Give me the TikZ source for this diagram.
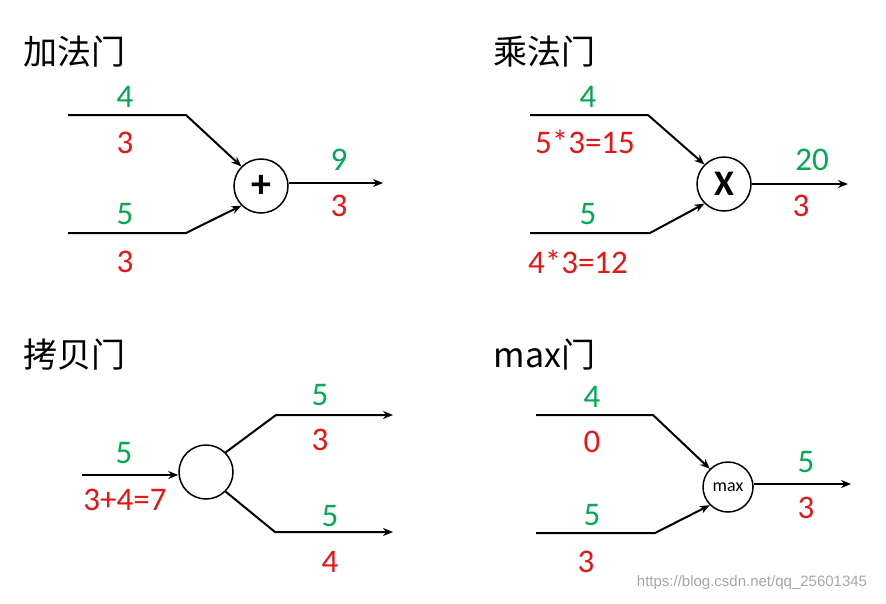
\documentclass[tikz,border=0pt]{standalone}
\usepackage{fontspec}
\setmainfont{Carlito}
\newfontfamily\cjk{Noto Sans CJK SC}
\newfontfamily\wm{Liberation Sans}
\usetikzlibrary{arrows.meta}
\definecolor{gr}{RGB}{0,170,80}
\definecolor{rd}{RGB}{235,20,20}
\begin{document}
\begin{tikzpicture}[x=1pt,y=-1pt,
  wire/.style={line width=2pt},
  arr/.style={wire,-{Stealth[length=10pt,width=8pt]}},
  gate/.style={circle,draw,line width=1.5pt,minimum size=54pt,inner sep=0pt},
  gv/.style={text=gr,font=\fontsize{33}{35}\selectfont},
  rv/.style={text=rd,font=\fontsize{33}{35}\selectfont},
  ttl/.style={anchor=west,font=\fontsize{34}{36}\selectfont\cjk}]
\useasboundingbox (0,0) rectangle (886,603);
% add gate
\node[ttl] (t1) at (20,52) {加法门};
\node[gate] (g1) at (261,186) {\fontsize{40}{40}\selectfont\bfseries +};
\coordinate (a1) at (68,115); \coordinate (a2) at (186,115);
\coordinate (b1) at (68,233); \coordinate (b2) at (186,233);
\coordinate (o1) at (383,183);
\draw[arr] (a1) -- (a2) -- (g1.135);
\draw[arr] (b1) -- (b2) -- (g1.225);
\draw[arr] (g1.east |- o1) -- (o1);
\node[gv] (l1) at (125,97) {4}; \node[rv] (l2) at (125,143) {3};
\node[gv] (l3) at (125,214) {5}; \node[rv] (l4) at (125,262) {3};
\node[gv] (l5) at (339,160) {9}; \node[rv] (l6) at (339,206) {3};
% multiply gate
\node[ttl] (t2) at (490,52) {乘法门};
\node[gate] (g2) at (724,184) {\fontsize{36}{36}\selectfont\bfseries X};
\coordinate (c1) at (530,115); \coordinate (c2) at (648,115);
\coordinate (d1) at (530,233); \coordinate (d2) at (650,233);
\coordinate (o2) at (848,184);
\draw[arr] (c1) -- (c2) -- (g2.135);
\draw[arr] (d1) -- (d2) -- (g2.225);
\draw[arr] (g2.east) -- (o2);
\node[gv] (m1) at (588,97) {4}; \node[rv] (m2) at (585,142) {5*3=15};
\node[gv] (m3) at (588,214) {5}; \node[rv] (m4) at (578,262) {4*3=12};
\node[gv] (m5) at (812,160) {20}; \node[rv] (m6) at (801,206) {3};
% copy gate
\node[ttl] (t3) at (20,355) {拷贝门};
\node[gate] (g3) at (206,472) {};
\coordinate (e1) at (82,475);
\coordinate (f1) at (276,415); \coordinate (f2) at (393,415);
\coordinate (h1) at (275,532); \coordinate (h2) at (393,532);
\draw[arr] (e1) -- (g3.west |- e1);
\draw[arr] (g3.45) -- (f1) -- (f2);
\draw[arr] (g3.-45) -- (h1) -- (h2);
\node[gv] (n1) at (124,453) {5}; \node[rv] (n2) at (125,500) {3+4=7};
\node[gv] (n3) at (320,395) {5}; \node[rv] (n4) at (320,440) {3};
\node[gv] (n5) at (330,516) {5}; \node[rv] (n6) at (330,562) {4};
% max gate
\node[ttl] (t4) at (490,355) {max门};
\node[gate,minimum size=50pt] (g4) at (728,487) {\fontsize{18}{18}\selectfont max};
\coordinate (p1) at (536,415); \coordinate (p2) at (653,415);
\coordinate (q1) at (536,533); \coordinate (q2) at (655,533);
\coordinate (o4) at (851,484);
\draw[arr] (p1) -- (p2) -- (g4.135);
\draw[arr] (q1) -- (q2) -- (g4.225);
\draw[arr] (g4.east |- o4) -- (o4);
\node[gv] (r1) at (592,397) {4}; \node[rv] (r2) at (592,442) {0};
\node[gv] (r3) at (592,515) {5}; \node[rv] (r4) at (586,562) {3};
\node[gv] (r5) at (806,462) {5}; \node[rv] (r6) at (806,508) {3};
\node[text=black!35,font=\wm\fontsize{15}{15}\selectfont] (w) at (752,583) {https://blog.csdn.net/qq\_25601345};
\end{tikzpicture}
\end{document}
